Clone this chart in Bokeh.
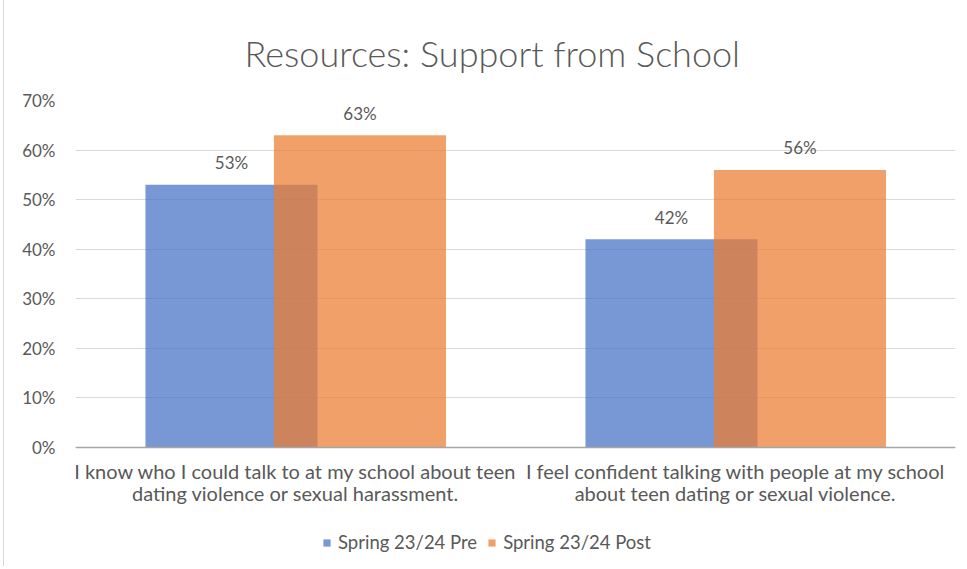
from bokeh.plotting import figure
from bokeh.models import (FactorRange, ColumnDataSource, Legend, LegendItem, Span,
                          FixedTicker, PrintfTickFormatter, Range1d)
from bokeh.transform import dodge
from bokeh.core.properties import value
from bokeh.embed import file_html
from bokeh.resources import INLINE

title_text = "Resources: Support from School"
categories = [
    "I know who I could talk to at my school about teen\ndating violence or sexual harassment.",
    "I feel confident talking with people at my school\nabout teen dating or sexual violence.",
]
series_names = ["Spring 23/24 Pre", "Spring 23/24 Post"]
pre_values = [53, 42]
post_values = [63, 56]
y_ticks = [0, 10, 20, 30, 40, 50, 60, 70]

FONT = "Lato"
TXT = "#595959"
BLUE = "#4472C4"
ORANGE = "#ED7D31"
ALPHA = 0.73

src = ColumnDataSource(dict(
    cat=categories, pre=pre_values, post=post_values,
    base=[0] * len(categories),
    pre_lbl=[f"{v}%" for v in pre_values],
    post_lbl=[f"{v}%" for v in post_values],
))

p = figure(width=962, height=566, title=title_text,
           x_range=FactorRange(factors=categories, range_padding=0),
           y_range=Range1d(-24.0, 70), output_backend="svg", toolbar_location=None,
           min_border_left=71, min_border_right=11, min_border_top=100, min_border_bottom=0)

r_pre = p.vbar(x=dodge("cat", -0.1455, range=p.x_range), top="pre", width=0.391, source=src,
               fill_color=BLUE, fill_alpha=ALPHA, line_color=None)
r_post = p.vbar(x=dodge("cat", 0.1465, range=p.x_range), top="post", width=0.391, source=src,
                fill_color=ORANGE, fill_alpha=ALPHA, line_color=None)

for off, col, lab in [(-0.1455, "pre", "pre_lbl"), (0.1465, "post", "post_lbl")]:
    p.text(x=dodge("cat", off, range=p.x_range), y=col, text=lab, source=src,
           text_align="center", text_baseline="middle", y_offset=-22,
           text_font=value(FONT), text_font_size="17px", text_color=TXT)

# category labels under the baseline
p.text(x="cat", y="base", text="cat", source=src, text_align="center", text_baseline="top",
       y_offset=11, text_line_height=0.92,
       text_font=value(FONT), text_font_size="20px", text_color=TXT)

p.add_layout(Span(location=0, dimension="width", line_color="#A6A6A6", line_width=1.5))

p.title.align = "left"
p.title.offset = 169
p.title.standoff = 51
p.title.vertical_align = "bottom"
p.title.text_font = "Lato Light"
p.title.text_font_size = "36px"
p.title.text_font_style = "normal"
p.title.text_color = TXT

legend = Legend(items=[LegendItem(label=series_names[0], renderers=[r_pre]),
                       LegendItem(label=series_names[1], renderers=[r_post])],
                orientation="horizontal", location=(247, 13), padding=4, spacing=10,
                label_standoff=7, glyph_width=9, glyph_height=9,
                border_line_color=None, background_fill_alpha=0,
                label_text_font=FONT, label_text_font_size="18.5px", label_text_color=TXT)
p.add_layout(legend)

p.xaxis.visible = False
p.yaxis.ticker = FixedTicker(ticks=y_ticks)
p.yaxis.formatter = PrintfTickFormatter(format="%d%%")
p.yaxis.axis_line_color = None
p.yaxis.major_tick_line_color = None
p.yaxis.minor_tick_line_color = None
p.yaxis.major_tick_out = 0
p.yaxis.major_label_standoff = 20
p.yaxis.major_label_text_font = FONT
p.yaxis.major_label_text_font_size = "17px"
p.yaxis.major_label_text_color = TXT

p.ygrid.ticker = FixedTicker(ticks=y_ticks)
p.ygrid.grid_line_color = "#D9D9D9"
p.xgrid.grid_line_color = None
p.outline_line_color = None
p.styles = {"margin-left": "3px", "border-left": "1px solid #D9D9D9"}

open("out.html", "w").write(file_html(p, INLINE))
